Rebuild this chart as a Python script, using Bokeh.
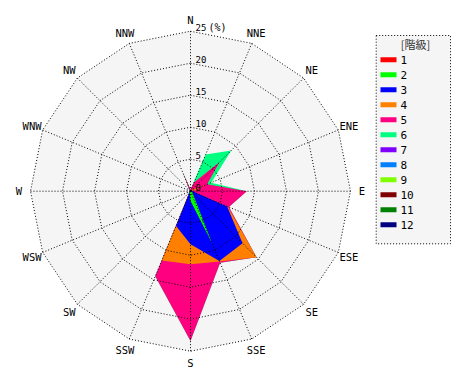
import numpy as np
from bokeh.plotting import figure
from bokeh.models import Range1d
from bokeh.core.properties import value
from bokeh.embed import file_html
from bokeh.resources import INLINE

# ---------------- data (percent frequency per direction and class) ----------------
directions = ["N", "NNE", "NE", "ENE", "E", "ESE", "SE", "SSE",
              "S", "SSW", "SW", "WSW", "W", "WNW", "NW", "NNW"]
class_names = ["1", "2", "3", "4", "5", "6", "7", "8", "9", "10", "11", "12"]
class_colors = ["#ff0000", "#00ff00", "#0000ff", "#ff8000", "#ff0080", "#00ff80",
                "#8000ff", "#0080ff", "#80ff00", "#800000", "#008000", "#000080"]

class_1 = [0, 0, 0, 0, 0, 0, 0, 0, 0, 0, 0, 0, 0, 0, 0, 0]
class_2 = [0, 0, 0, 0, 0.2, 0.3, 0.5, 8.9, 1.5, 0.3, 0, 0, 0, 0, 0, 0]
class_3 = [0, 0.3, 0.3, 0.3, 0.2, 5.9, 11.0, 2.9, 6.8, 5.6, 0.2, 0, 0, 0, 0, 0.2]
class_4 = [0, 0, 0, 2.3, 0, 0.1, 3.1, 0.1, 3.1, 5.8, 0, 0, 0, 0, 0, 0]
class_5 = [0.3, 1.2, 6.1, 0.2, 8.4, 0.2, 0, 0.2, 12.0, 2.7, 0, 0, 0, 0, 0.2, 3.0]
class_6 = [0, 4.7, 2.6, 0.7, 0, 0, 0, 0, 0, 0, 0, 0, 0, 0, 0, 0]
class_7 = [0, 0, 0, 0, 0, 0, 0, 0, 0, 0, 0, 0, 0, 0, 0, 0]
class_8 = [0, 0, 0, 0, 0, 0, 0, 0, 0, 0, 0, 0, 0, 0, 0, 0]
class_9 = [0, 0, 0, 0, 0, 0, 0, 0, 0, 0, 0, 0, 0, 0, 0, 0]
class_10 = [0, 0, 0, 0, 0, 0, 0, 0, 0, 0, 0, 0, 0, 0, 0, 0]
class_11 = [0, 0, 0, 0, 0, 0, 0, 0, 0, 0, 0, 0, 0, 0, 0, 0]
class_12 = [0, 0, 0, 0, 0, 0, 0, 0, 0, 0, 0, 0, 0, 0, 0, 0]

ring_values = [5, 10, 15, 20, 25]
center_label = "0"
unit_label = "(%)"
legend_title = "[階級]"

# ---------------- geometry ----------------
W, H = 460, 372          # figure size
CX, CY = 190.0, 190.7    # figure pixel position of the rose centre
S = 6.4                  # pixels per percent


def px2x(px):
    return (px - CX) / S


def py2y(py):
    return (CY - py) / S


p = figure(width=W, height=H,
           x_range=Range1d(px2x(0), px2x(W)),
           y_range=Range1d(py2y(H), py2y(0)),
           x_axis_type=None, y_axis_type=None,
           toolbar_location=None, output_backend="svg",
           min_border=0, outline_line_color=None,
           background_fill_color="white", border_fill_color="white")

n = len(directions)
theta = np.deg2rad(np.arange(n) * 360.0 / n)
sin_t, cos_t = np.sin(theta), np.cos(theta)
rmax = ring_values[-1]

# plot-area background
p.patch(list(rmax * sin_t), list(rmax * cos_t), fill_color="#f5f5f5", line_color=None)

# stacked (cumulative) polygons, drawn from the highest class down
classes = np.array([class_1, class_2, class_3, class_4, class_5, class_6,
                    class_7, class_8, class_9, class_10, class_11, class_12], dtype=float)
cum = np.cumsum(classes, axis=0)
for k in range(len(class_names) - 1, -1, -1):
    if classes[k].sum() > 0:
        r = cum[k]
        p.patch(list(r * sin_t), list(r * cos_t), fill_color=class_colors[k],
                fill_alpha=1.0, line_color=None)

# dotted grid: rings and spokes
grid_kw = dict(line_color="black", line_width=1, line_dash="1 2")
for rv in ring_values:
    xs = list(rv * sin_t) + [rv * sin_t[0]]
    ys = list(rv * cos_t) + [rv * cos_t[0]]
    p.line(xs, ys, **grid_kw)
p.segment(x0=[0] * n, y0=[0] * n, x1=list(rmax * sin_t), y1=list(rmax * cos_t), **grid_kw)

# ring labels
lab_dx = 5 / S
lab_dy = 4 / S
p.text(x=[lab_dx] * (len(ring_values) + 1),
       y=[lab_dy] + [v + lab_dy for v in ring_values],
       text=[center_label] + [str(v) for v in ring_values],
       text_font=value("DejaVu Sans Mono"), text_font_size="9px",
       text_align="left", text_baseline="middle", text_color="black")
p.text(x=[px2x(208)], y=[rmax + lab_dy], text=[unit_label],
       text_font=value("DejaVu Sans Mono"), text_font_size="10px",
       text_align="left", text_baseline="middle", text_color="black")

# direction labels
rl = 171.5 / S
p.text(x=list(rl * sin_t), y=list(rl * cos_t), text=directions,
       text_font=value("DejaVu Sans Mono"), text_font_size="10.5px",
       text_align="center", text_baseline="middle", text_color="black")

# legend box (drawn manually)
bx0, bx1, by0, by1 = 375.7, 450.0, 35.0, 243.3
p.quad(left=[px2x(bx0)], right=[px2x(bx1)], top=[py2y(by0)], bottom=[py2y(by1)],
       fill_color="#f5f5f5", line_color="black", line_width=1, line_dash="1 2")
p.text(x=[px2x(415)], y=[py2y(43.5)], text=[legend_title],
       text_font=value("Noto Sans CJK JP"), text_font_size="11px",
       text_align="center", text_baseline="middle", text_color="#333333")
row_y = [py2y(59.3 + 15 * i) for i in range(len(class_names))]
p.rect(x=[px2x(388)] * len(class_names), y=row_y, width=16, height=5,
       width_units="screen", height_units="screen",
       fill_color=class_colors, line_color=None)
p.text(x=[px2x(400)] * len(class_names), y=row_y, text=class_names,
       text_font=value("DejaVu Sans Mono"), text_font_size="11px",
       text_align="left", text_baseline="middle", text_color="black")

open("out.html", "w").write(file_html(p, INLINE))
